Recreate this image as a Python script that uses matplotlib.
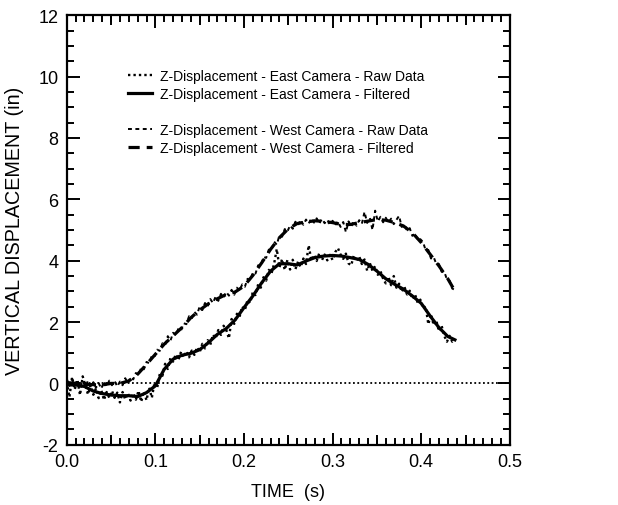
import numpy as np
import matplotlib
matplotlib.use("Agg")
import matplotlib.pyplot as plt
from matplotlib.lines import Line2D
from matplotlib.ticker import MultipleLocator, FixedLocator

plt.rcParams['font.family'] = ['Liberation Sans', 'DejaVu Sans']

# Filtered traces (s, in)
t_filt = [0.00, 0.01, 0.02, 0.03, 0.04, 0.05, 0.06, 0.07, 0.08, 0.09,
          0.10, 0.11, 0.12, 0.13, 0.14, 0.15, 0.16, 0.17, 0.18, 0.19,
          0.20, 0.21, 0.22, 0.23, 0.24, 0.25, 0.26, 0.27, 0.28, 0.29,
          0.30, 0.31, 0.32, 0.33, 0.34, 0.35, 0.36, 0.37, 0.38, 0.39,
          0.40, 0.41, 0.42, 0.43, 0.438]
east_filt = [-0.05, -0.05, -0.10, -0.25, -0.33, -0.38, -0.40, -0.40, -0.43, -0.30,
             -0.08, 0.46, 0.79, 0.92, 0.98, 1.10, 1.33, 1.60, 1.79, 2.07,
             2.47, 2.85, 3.28, 3.66, 3.90, 3.90, 3.86, 3.99, 4.10, 4.15,
             4.17, 4.15, 4.10, 4.04, 3.88, 3.66, 3.41, 3.23, 3.07, 2.85,
             2.61, 2.20, 1.82, 1.53, 1.42]
west_filt = [0.03, 0.00, -0.03, -0.04, -0.05, 0.00, 0.00, 0.08, 0.30, 0.62,
             0.95, 1.28, 1.55, 1.82, 2.14, 2.39, 2.60, 2.76, 2.90, 2.98,
             3.17, 3.52, 3.93, 4.37, 4.75, 5.04, 5.21, 5.26, 5.30, 5.28,
             5.24, 5.18, 5.18, 5.24, 5.29, 5.34, 5.32, 5.24, 5.13, 4.91,
             4.59, 4.21, 3.83, 3.41, 3.01]

# Raw camera samples, 3 ms apart
t_raw = np.arange(147) * 0.003
east_raw = [0.05, -0.45, 0.20, -0.20, 0.12, -0.38, 0.23, -0.07, -0.36, -0.06,
            -0.37, -0.16, -0.48, -0.22, -0.54, -0.28, -0.47, -0.24, -0.47, -0.30,
            -0.62, -0.28, -0.52, -0.32, -0.56, -0.32, -0.53, -0.24, -0.60, -0.26,
            -0.55, -0.13, -0.47, 0.02, -0.15, 0.31, 0.25, 0.64, 0.47, 0.83,
            0.71, 0.95, 0.77, 1.03, 0.85, 1.05, 0.85, 1.07, 0.93, 1.18,
            1.02, 1.29, 1.14, 1.41, 1.26, 1.59, 1.47, 1.74, 1.58, 1.88,
            1.74, 1.47, 2.10, 1.94, 2.27, 2.17, 2.51, 2.39, 2.72, 2.62,
            2.99, 2.88, 3.23, 3.12, 3.46, 3.35, 3.70, 3.58, 3.90, 4.38,
            3.78, 4.05, 3.70, 4.02, 3.71, 4.03, 3.72, 3.97, 3.79, 4.07,
            3.89, 4.50, 4.01, 4.19, 3.99, 4.25, 4.02, 4.20, 4.01, 4.19,
            4.02, 4.28, 4.41, 4.20, 4.06, 4.23, 3.91, 3.85, 4.18, 3.98,
            4.14, 3.89, 4.04, 3.67, 3.92, 3.67, 3.82, 3.54, 3.66, 3.41,
            3.26, 3.48, 3.20, 3.50, 3.12, 3.25, 2.98, 3.15, 2.90, 3.02,
            2.75, 2.90, 2.63, 2.73, 2.45, 2.51, 1.93, 2.26, 1.90, 2.05,
            1.70, 1.88, 1.55, 1.36, 1.55, 1.36, 1.44]
west_raw = [0.15, -0.08, 0.16, -0.05, 0.11, -0.14, 0.08, -0.11, 0.09, -0.14,
            0.04, -0.14, 0.01, -0.17, 0.06, -0.10, 0.09, -0.06, 0.08, -0.10,
            0.06, -0.06, 0.17, 0.01, 0.20, 0.13, 0.34, 0.27, 0.51, 0.46,
            0.70, 0.66, 0.90, 0.87, 1.10, 1.06, 1.31, 1.25, 1.54, 1.39,
            1.65, 1.57, 1.79, 1.73, 1.96, 1.93, 2.19, 2.11, 2.33, 2.24,
            2.51, 2.39, 2.62, 2.50, 2.75, 2.62, 2.83, 2.69, 2.92, 2.80,
            2.98, 2.86, 3.05, 2.89, 3.12, 3.02, 3.23, 3.15, 3.41, 3.36,
            3.62, 3.58, 3.85, 3.83, 4.12, 4.09, 4.36, 4.35, 4.62, 4.52,
            4.83, 4.78, 5.03, 4.95, 5.15, 5.04, 5.27, 5.16, 5.33, 5.17,
            5.34, 5.21, 5.38, 5.24, 5.38, 5.21, 5.36, 5.22, 5.33, 5.17,
            5.30, 5.16, 5.28, 5.10, 5.26, 4.93, 5.28, 5.11, 5.30, 5.14,
            5.32, 5.20, 5.59, 5.23, 5.40, 5.00, 5.63, 5.28, 5.43, 5.25,
            5.40, 5.24, 5.37, 5.19, 5.33, 5.46, 5.10, 5.19, 4.98, 5.06,
            4.81, 4.89, 4.66, 4.70, 4.61, 4.34, 4.35, 4.07, 4.12, 3.89,
            3.89, 3.64, 3.64, 3.39, 3.35, 3.09, 3.05]

labels = ["Z-Displacement - East Camera - Raw Data",
          "Z-Displacement - East Camera - Filtered",
          "Z-Displacement - West Camera - Raw Data",
          "Z-Displacement - West Camera - Filtered"]

fig = plt.figure(figsize=(6.18, 5.06), dpi=100)
ax = fig.add_axes([0.108, 0.119, 0.717, 0.849])

ax.axhline(0, color='black', lw=1.3, ls=(0, (1, 1.4)), zorder=1)
l1, = ax.plot(t_raw, east_raw, color='black', lw=1.7, ls=(0, (1, 1.3)))
l3, = ax.plot(t_raw, west_raw, color='black', lw=1.4, ls=(0, (2.0, 1.8)))
l2, = ax.plot(t_filt, east_filt, color='black', lw=2.3, ls='-')
l4, = ax.plot(t_filt, west_filt, color='black', lw=2.3, ls=(0, (3.5, 2.2)))

ax.set_xlim(0, 0.5)
ax.set_ylim(-2, 12)
ax.xaxis.set_major_locator(MultipleLocator(0.1))
ax.xaxis.set_minor_locator(MultipleLocator(0.01))
ax.yaxis.set_major_locator(MultipleLocator(2))
ax.yaxis.set_minor_locator(MultipleLocator(0.5))
ax.xaxis.set_major_formatter(plt.FuncFormatter(lambda v, p: f"{v:.1f}"))
ax.yaxis.set_major_formatter(plt.FuncFormatter(lambda v, p: f"{v:.0f}"))

ax.tick_params(which='both', direction='in', top=True, right=True,
               width=1.4, labelsize=13, pad=6)
ax.tick_params(which='major', length=9)
ax.tick_params(which='minor', length=5)
for s in ax.spines.values():
    s.set_linewidth(1.6)

# intermediate ticks every 0.05 s
for loc in ('bottom', 'top'):
    sec = ax.secondary_xaxis(loc)
    sec.xaxis.set_major_locator(FixedLocator([0.05, 0.15, 0.25, 0.35, 0.45]))
    sec.tick_params(direction='in', length=7, width=1.4, labelbottom=False,
                    labeltop=False)
    for s in sec.spines.values():
        s.set_visible(False)

ax.set_xlabel("TIME  (s)", fontsize=13, labelpad=9)
ax.set_ylabel("VERTICAL DISPLACEMENT (in)", fontsize=14.2, labelpad=10)

blank = Line2D([], [], color='none')
ax.legend([l1, l2, blank, l3, l4], [labels[0], labels[1], " ", labels[2], labels[3]],
          loc='upper left', bbox_to_anchor=(0.138, 0.875), frameon=False,
          fontsize=10, handlelength=1.73, handletextpad=0.58, labelspacing=0.29,
          borderpad=0, borderaxespad=0)

fig.savefig("out.png", dpi=100)
